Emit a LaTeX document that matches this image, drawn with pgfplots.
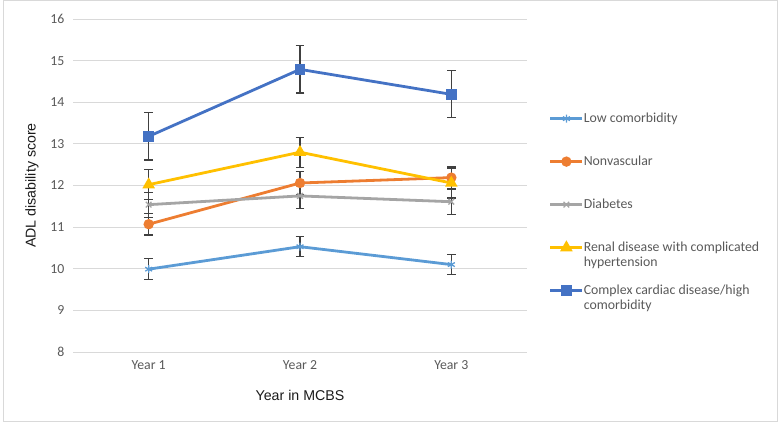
\documentclass[border=0pt]{standalone}
\usepackage{pgfplots}
\pgfplotsset{compat=1.18}
\usepackage{fontspec}
\setmainfont{Carlito}
\newfontfamily\arialfont{Liberation Sans}
\definecolor{cLow}{HTML}{5B9BD5}
\definecolor{cNon}{HTML}{ED7D31}
\definecolor{cDia}{HTML}{A5A5A5}
\definecolor{cRen}{HTML}{FFC000}
\definecolor{cCar}{HTML}{4472C4}
\definecolor{tickgray}{HTML}{595959}
\definecolor{titlegray}{HTML}{1A1A1A}
\definecolor{gridgray}{HTML}{D9D9D9}
\definecolor{errgray}{HTML}{404040}
\begin{document}
\begin{tikzpicture}[x=1bp,y=1bp]
\useasboundingbox (0,0) rectangle (781,424);
\draw[color=gridgray, line width=1bp] (3,3) rectangle (777,423);
\begin{axis}[
  at={(73bp,72bp)}, anchor=south west,
  scale only axis, width=454bp, height=333bp,
  xmin=-0.5, xmax=2.5, ymin=8, ymax=16,
  xtick={0,1,2}, xticklabels={Year 1, Year 2, Year 3},
  ytick={8,9,...,16},
  axis line style={draw=none},
  major tick length=0pt,
  ymajorgrids, grid style={color=gridgray, line width=1bp},
  tick label style={color=tickgray, font=\fontsize{13.8bp}{16bp}\selectfont},
  /pgf/number format/assume math mode=true,
  yticklabel style={xshift=-5bp},
  xticklabel style={yshift=-5bp},
  xlabel={Year in MCBS}, ylabel={ADL disability score},
  label style={color=titlegray, font=\arialfont\fontsize{14.2bp}{17bp}\selectfont},
  xlabel style={at={(0.5,0)}, anchor=center, yshift=-43bp},
  ylabel style={at={(0,0.5)}, anchor=center, yshift=41bp},
  every axis plot/.append style={line width=2.8bp, mark options={solid}},
  error bars/y dir=both, error bars/y explicit,
  error bars/error bar style={color=errgray, line width=1.2bp},
  error bars/error mark options={rotate=90, mark size=4.3bp, color=errgray, line width=1.2bp},
  legend style={draw=none, fill=none, at={(1.048,0.721)}, anchor=north west,
    font=\fontsize{13.8bp}{16bp}\selectfont, text=tickgray,
    row sep=30bp, inner sep=0pt,
    nodes={inner sep=0pt, text height=10bp, text depth=3bp}},
  legend cell align=left,
  legend image code/.code={\draw[mark repeat=2, mark phase=2] plot coordinates {(0bp,0bp) (16bp,0bp) (32bp,0bp)};},
]
\addplot[color=cLow, mark=asterisk, mark size=4bp, mark options={line width=1.3bp}]
  coordinates {(0,9.99) +- (0,0.25) (1,10.53) +- (0,0.24) (2,10.10) +- (0,0.235)};
\addlegendentry{Low comorbidity}
\addplot[color=cNon, mark=*, mark size=3.7bp]
  coordinates {(0,11.07) +- (0,0.26) (1,12.06) +- (0,0.28) (2,12.19) +- (0,0.26)};
\addlegendentry{Nonvascular}
\addplot[color=cDia, mark=x, mark size=4bp, mark options={line width=1.3bp}]
  coordinates {(0,11.54) +- (0,0.3) (1,11.75) +- (0,0.3) (2,11.61) +- (0,0.3)};
\addlegendentry{Diabetes}
\addplot[color=cRen, mark=triangle*, mark size=4.5bp]
  coordinates {(0,12.02) +- (0,0.36) (1,12.80) +- (0,0.36) (2,12.06) +- (0,0.36)};
\addlegendentry{\raisebox{0pt}[10bp][3bp]{\begin{tabular}[t]{@{}l@{}}Renal disease with complicated\\[-1bp]hypertension\end{tabular}}}
\addplot[color=cCar, mark=square*, mark size=3.8bp]
  coordinates {(0,13.18) +- (0,0.565) (1,14.79) +- (0,0.57) (2,14.19) +- (0,0.565)};
\addlegendentry{\raisebox{0pt}[10bp][3bp]{\begin{tabular}[t]{@{}l@{}}Complex cardiac disease/high\\[-1bp]comorbidity\end{tabular}}}
\end{axis}
\end{tikzpicture}
\end{document}
